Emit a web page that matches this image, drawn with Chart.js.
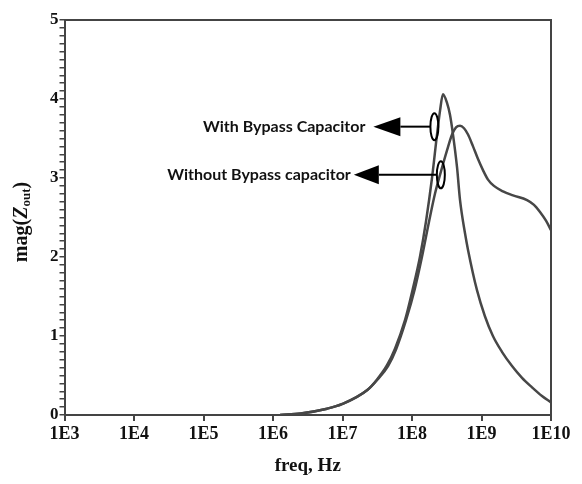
<!DOCTYPE html>
<html>
<head>
<meta charset="utf-8">
<script src="https://cdn.jsdelivr.net/npm/chart.js@4.4.1/dist/chart.umd.min.js"></script>
<style>
  html, body { margin: 0; padding: 0; background: #fff; }
  #wrap { width: 582px; height: 484px; }
</style>
</head>
<body>
<div id="wrap"><canvas id="zChart" width="582" height="484"></canvas></div>
<script>
// datos (frecuencia en Hz, magnitud)
const withFreq = [1.26e6, 2.5e6, 6e6, 1e7, 2.3e7, 3.14e7, 4.37e7, 5.69e7, 7.93e7, 1.03e8, 1.3e8, 1.59e8, 1.94e8, 2.29e8, 2.53e8, 2.79e8, 3.19e8, 3.52e8, 3.89e8, 4.44e8, 4.91e8, 5.79e8, 6.4e8, 8.61e8, 1.12e9, 1.46e9, 1.97e9, 2.75e9, 3.83e9, 5.33e9, 7.42e9, 1e10];
const withMag  = [0, 0.02, 0.08, 0.14, 0.32, 0.45, 0.63, 0.84, 1.2, 1.6, 2.0, 2.45, 3.0, 3.55, 3.85, 4.06, 3.95, 3.8, 3.55, 3.14, 2.72, 2.3, 2.09, 1.58, 1.25, 1.0, 0.8, 0.62, 0.47, 0.35, 0.24, 0.16];

const withoutFreq = [1.26e6, 2.5e6, 6e6, 1e7, 2.3e7, 3.2e7, 4.52e7, 5.89e7, 8.2e7, 1.1e8, 1.39e8, 1.76e8, 2.14e8, 2.53e8, 3.19e8, 3.77e8, 4.3e8, 4.91e8, 5.6e8, 6.4e8, 7.55e8, 8.91e8, 1.05e9, 1.24e9, 1.51e9, 2.04e9, 2.84e9, 4.52e9, 5.69e9, 6.95e9, 8.47e9, 1e10];
const withoutMag  = [0, 0.02, 0.08, 0.14, 0.32, 0.45, 0.62, 0.83, 1.2, 1.6, 2.0, 2.45, 2.8, 3.04, 3.35, 3.55, 3.64, 3.66, 3.63, 3.55, 3.4, 3.24, 3.1, 2.98, 2.9, 2.83, 2.78, 2.72, 2.66, 2.57, 2.46, 2.34];

const xExponents = [3, 4, 5, 6, 7, 8, 9, 10];
const yLabels = [0, 1, 2, 3, 4, 5];

// etiquetas de las flechas (la elipse va sobre la curva)
const notes = [
  { text: 'With Bypass Capacitor', freq: 2.1e8, mag: 3.65, tipGap: 61, headLen: 27, textGap: 8 },
  { text: 'Without Bypass capacitor', freq: 2.6e8, mag: 3.04, tipGap: 87, headLen: 25, textGap: 3 }
];

const ink = '#444444';
const curveColor = '#474747';

function toPoints(fs, ms) {
  return fs.map((f, i) => ({ x: f, y: ms[i] }));
}

// marco, titulos y anotaciones
const extras = {
  id: 'extras',
  afterDraw(chart) {
    const c = chart.ctx;
    const a = chart.chartArea;
    c.save();
    c.strokeStyle = ink;
    c.lineWidth = 2;
    c.beginPath();
    c.moveTo(a.left, a.top);
    c.lineTo(a.right, a.top);
    c.lineTo(a.right, a.bottom);
    c.stroke();

    // titulo del eje x
    c.fillStyle = '#111';
    c.font = 'bold 19px "Liberation Serif"';
    c.textAlign = 'center';
    c.textBaseline = 'middle';
    c.fillText('freq, Hz', (a.left + a.right) / 2, 466);

    // titulo del eje y con subindice
    c.translate(21, 222);
    c.rotate(-Math.PI / 2);
    const big = 'bold 20px "Liberation Serif"';
    const bigIt = 'italic bold 20px "Liberation Serif"';
    const small = 'bold 13px "Liberation Serif"';
    c.font = big;
    const w1 = c.measureText('mag(').width;
    c.font = bigIt;
    const w2 = c.measureText('Z').width;
    c.font = small;
    const w3 = c.measureText('out').width;
    c.font = big;
    const w4 = c.measureText(')').width;
    let x0 = -(w1 + w2 + w3 + w4) / 2;
    c.textAlign = 'left';
    c.textBaseline = 'alphabetic';
    c.font = big;
    c.fillText('mag(', x0, 6);
    x0 += w1;
    c.font = bigIt;
    c.fillText('Z', x0, 6);
    x0 += w2;
    c.font = small;
    c.fillText('out', x0, 9);
    x0 += w3;
    c.font = big;
    c.fillText(')', x0, 6);
    c.restore();

    // flechas y elipses
    const xs = chart.scales.x, ys = chart.scales.y;
    c.save();
    notes.forEach((n) => {
      const ex = xs.getPixelForValue(n.freq);
      const ey = ys.getPixelForValue(n.mag);
      c.strokeStyle = '#000';
      c.fillStyle = '#000';
      c.lineWidth = 2;
      c.beginPath();
      c.ellipse(ex, ey, 4, 13.5, 0, 0, Math.PI * 2);
      c.stroke();
      const tip = ex - n.tipGap;
      const base = tip + n.headLen;
      c.beginPath();
      c.moveTo(ex - 4, ey);
      c.lineTo(base, ey);
      c.stroke();
      c.beginPath();
      c.moveTo(tip, ey);
      c.lineTo(base, ey - 9.5);
      c.lineTo(base, ey + 9.5);
      c.closePath();
      c.fill();
      c.font = 'bold 16px Lato';
      c.textAlign = 'right';
      c.textBaseline = 'middle';
      c.fillStyle = '#111';
      c.fillText(n.text, tip - n.textGap, ey);
    });
    c.restore();
  }
};

const ctx = document.getElementById('zChart').getContext('2d');
const chart = new Chart(ctx, {
  type: 'line',
  data: {
    datasets: [
      {
        label: 'With Bypass Capacitor',
        data: toPoints(withFreq, withMag),
        borderColor: curveColor,
        borderWidth: 2.5,
        pointRadius: 0,
        cubicInterpolationMode: 'monotone',
        fill: false
      },
      {
        label: 'Without Bypass capacitor',
        data: toPoints(withoutFreq, withoutMag),
        borderColor: curveColor,
        borderWidth: 2.5,
        pointRadius: 0,
        cubicInterpolationMode: 'monotone',
        fill: false
      }
    ]
  },
  options: {
    responsive: false,
    animation: false,
    layout: { padding: { left: 0, right: 31, top: 20, bottom: 0 } },
    plugins: {
      legend: { display: false },
      tooltip: { enabled: false }
    },
    scales: {
      x: {
        type: 'logarithmic',
        min: 1e3,
        max: 1e10,
        afterBuildTicks: (scale) => {
          scale.ticks = xExponents.map(e => ({ value: Math.pow(10, e) }));
        },
        afterFit: (scale) => { scale.height = 69; },
        ticks: {
          autoSkip: false,
          maxRotation: 0,
          padding: 3,
          color: '#111',
          font: { family: 'Liberation Serif', size: 18, weight: 'bold' },
          callback: (v) => '1E' + Math.round(Math.log10(v))
        },
        grid: { drawOnChartArea: false, tickLength: 6, color: ink, lineWidth: 2 },
        border: { color: ink, width: 2 }
      },
      y: {
        min: 0,
        max: 5,
        afterFit: (scale) => { scale.width = 64.5; },
        ticks: {
          stepSize: 0.1,
          autoSkip: false,
          padding: 1,
          color: '#111',
          font: { family: 'Liberation Serif', size: 17, weight: 'bold' },
          callback: (v) => {
            const r = Math.round(v);
            return Math.abs(v - r) < 1e-6 && yLabels.includes(r) ? String(r) : '';
          }
        },
        grid: { drawOnChartArea: false, tickLength: 5, color: ink, lineWidth: 1.5 },
        border: { color: ink, width: 2 }
      }
    }
  },
  plugins: [extras]
});
</script>
</body>
</html>
